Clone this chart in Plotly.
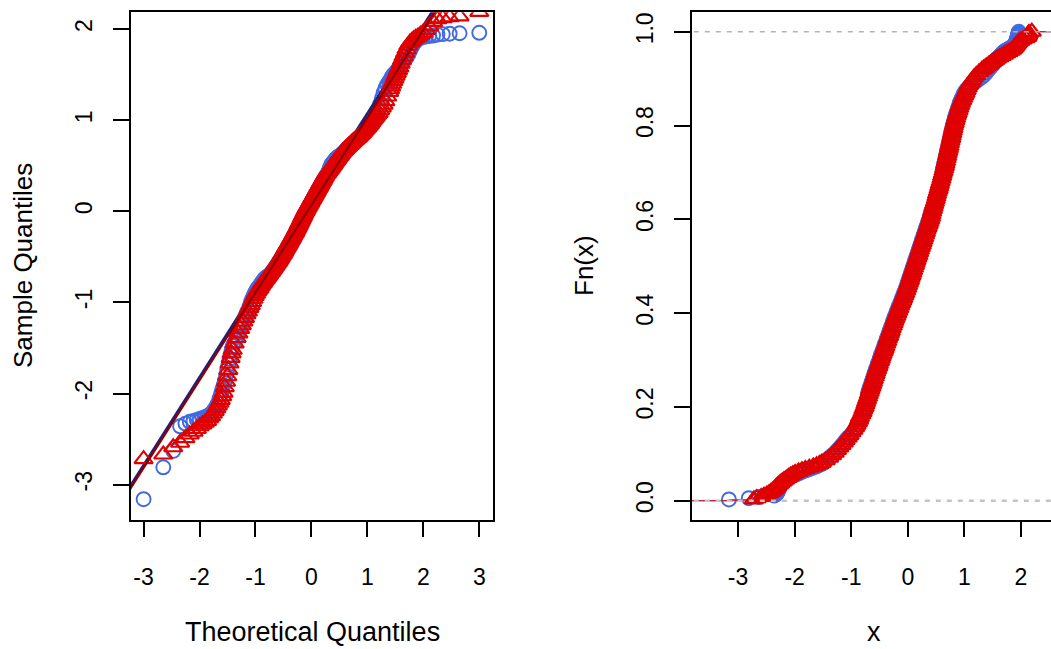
import plotly.graph_objects as go
from statistics import NormalDist

# ---- data ----------------------------------------------------------------
n = 370  # sample size of each series

# order statistics that are drawn (every one in the tails, every second elsewhere)
ranks = (list(range(1, 31)) + list(range(32, 63, 2)) + list(range(64, 305, 2))
         + list(range(306, 341, 2)) + list(range(341, 371)))

# sorted sample values at those ranks
blue_values = [
    # ranks 1-30
    -3.16, -2.81, -2.63, -2.36, -2.33, -2.31, -2.30, -2.29, -2.28, -2.27,
    -2.26, -2.25, -2.24, -2.22, -2.20, -2.17, -2.14, -2.11, -2.06, -2.01,
    -1.96, -1.91, -1.86, -1.80, -1.74, -1.68, -1.62, -1.57, -1.52, -1.48,
    # ranks 32-62
    -1.44, -1.38, -1.33, -1.28, -1.24, -1.20, -1.16, -1.12, -1.09, -1.05,
    -1.00, -0.965, -0.93, -0.90, -0.875, -0.85,
    # ranks 64-304
    -0.835, -0.82, -0.80, -0.78, -0.765, -0.748, -0.735, -0.725, -0.715, -0.71,
    -0.706, -0.692, -0.68, -0.663, -0.65, -0.634, -0.62, -0.603, -0.59, -0.576,
    -0.56, -0.542, -0.53, -0.51, -0.495, -0.482, -0.465, -0.446, -0.43, -0.417,
    -0.40, -0.383, -0.37, -0.35, -0.335, -0.321, -0.305, -0.286, -0.27, -0.257,
    -0.24, -0.22, -0.205, -0.188, -0.17, -0.153, -0.135, -0.116, -0.10, -0.082,
    -0.065, -0.047, -0.03, -0.016, 0.0, 0.017, 0.03, 0.046, 0.06, 0.074,
    0.09, 0.107, 0.12, 0.134, 0.15, 0.166, 0.18, 0.194, 0.21, 0.227,
    0.24, 0.254, 0.27, 0.286, 0.30, 0.313, 0.33, 0.346, 0.36, 0.377,
    0.39, 0.40, 0.415, 0.435, 0.46, 0.48, 0.505, 0.52, 0.53, 0.54,
    0.55, 0.565, 0.575, 0.585, 0.595, 0.60, 0.605, 0.61, 0.615, 0.625,
    0.635, 0.644, 0.655, 0.666, 0.675, 0.684, 0.695, 0.706, 0.715, 0.724,
    0.735, 0.746, 0.755, 0.764, 0.775, 0.786, 0.795, 0.808, 0.82, 0.831,
    0.845,
    # ranks 306-340
    0.86, 0.875, 0.89, 0.905, 0.92, 0.94, 0.96, 0.98, 1.00, 1.03,
    1.07, 1.12, 1.18, 1.24, 1.30, 1.35, 1.39, 1.42,
    # ranks 341-370
    1.44, 1.46, 1.48, 1.50, 1.51, 1.52, 1.54, 1.56, 1.58, 1.61,
    1.63, 1.65, 1.67, 1.69, 1.72, 1.76, 1.80, 1.84, 1.87, 1.89,
    1.905, 1.915, 1.92, 1.925, 1.93, 1.94, 1.945, 1.95, 1.955, 1.96,
]
red_values = [
    # ranks 1-30
    -2.72, -2.67, -2.59, -2.54, -2.49, -2.45, -2.42, -2.39, -2.36, -2.34,
    -2.32, -2.30, -2.27, -2.25, -2.22, -2.19, -2.16, -2.13, -2.10, -2.07,
    -2.03, -1.99, -1.93, -1.87, -1.81, -1.74, -1.67, -1.61, -1.56, -1.52,
    # ranks 32-62
    -1.45, -1.39, -1.34, -1.29, -1.25, -1.21, -1.17, -1.13, -1.10, -1.06,
    -1.03, -0.995, -0.96, -0.93, -0.905, -0.88,
    # ranks 64-304
    -0.86, -0.845, -0.82, -0.80, -0.785, -0.765, -0.75, -0.737, -0.72, -0.703,
    -0.69, -0.672, -0.66, -0.643, -0.63, -0.614, -0.60, -0.583, -0.57, -0.556,
    -0.54, -0.522, -0.51, -0.49, -0.475, -0.462, -0.445, -0.426, -0.41, -0.397,
    -0.38, -0.363, -0.35, -0.33, -0.315, -0.301, -0.285, -0.266, -0.25, -0.237,
    -0.22, -0.2, -0.185, -0.168, -0.15, -0.133, -0.115, -0.096, -0.08, -0.062,
    -0.045, -0.027, -0.01, 0.004, 0.02, 0.037, 0.05, 0.066, 0.08, 0.094,
    0.11, 0.127, 0.14, 0.154, 0.17, 0.186, 0.20, 0.214, 0.23, 0.247,
    0.26, 0.274, 0.29, 0.306, 0.32, 0.333, 0.35, 0.366, 0.38, 0.397,
    0.41, 0.418, 0.43, 0.443, 0.455, 0.466, 0.48, 0.494, 0.505, 0.516,
    0.53, 0.544, 0.555, 0.566, 0.58, 0.594, 0.605, 0.617, 0.63, 0.643,
    0.655, 0.664, 0.675, 0.686, 0.695, 0.704, 0.715, 0.726, 0.735, 0.744,
    0.755, 0.766, 0.775, 0.784, 0.795, 0.806, 0.815, 0.828, 0.84, 0.851,
    0.865,
    # ranks 306-340
    0.88, 0.895, 0.91, 0.925, 0.94, 0.96, 0.98, 1.00, 1.02, 1.04,
    1.06, 1.08, 1.11, 1.14, 1.17, 1.21, 1.26, 1.31,
    # ranks 341-370
    1.34, 1.37, 1.40, 1.43, 1.46, 1.49, 1.52, 1.55, 1.58, 1.62,
    1.66, 1.70, 1.74, 1.78, 1.82, 1.85, 1.87, 1.89, 1.905, 1.92,
    1.94, 1.96, 1.99, 2.03, 2.08, 2.11, 2.12, 2.13, 2.14, 2.19,
]

# reference lines of the normal plot: (intercept, slope)
blue_qqline = (0.11, 0.965)
red_qqline = (0.07, 0.962)

qq_xticks = [-3, -2, -1, 0, 1, 2, 3]
qq_yticks = [-3, -2, -1, 0, 1, 2]
ecdf_xticks = [-3, -2, -1, 0, 1, 2]
ecdf_yticks = [0.0, 0.2, 0.4, 0.6, 0.8, 1.0]

assert len(ranks) == len(blue_values) == len(red_values)

# ---- derived coordinates --------------------------------------------------
nd = NormalDist()
theoretical = [nd.inv_cdf((r - 0.5) / n) for r in ranks]
fn = [r / n for r in ranks]

BLUE = "#4169E1"
RED = "#E00000"
FONT = "Liberation Sans, Arial, Helvetica, sans-serif"

W, H = 1051, 649


def px_x(p):
    return p / W


def px_y(p):
    return 1 - p / H


circle = dict(symbol="circle-open", size=14, color=BLUE, line=dict(width=1.9))
triangle = dict(symbol="triangle-up-open", size=16, color=RED, line=dict(width=2.1))

fig = go.Figure()

# ---- left panel: normal Q-Q plot -----------------------------------------
line_x = [-4.0, 4.0]
fig.add_trace(go.Scatter(x=theoretical, y=blue_values, mode="markers",
                         xaxis="x", yaxis="y", marker=circle))
fig.add_trace(go.Scatter(
    x=line_x, y=[blue_qqline[0] + blue_qqline[1] * v for v in line_x],
    mode="lines", xaxis="x", yaxis="y", line=dict(color="#1E1E80", width=2.6),
))
fig.add_trace(go.Scatter(x=theoretical, y=red_values, mode="markers",
                         xaxis="x", yaxis="y", marker=triangle))
fig.add_trace(go.Scatter(
    x=line_x, y=[red_qqline[0] + red_qqline[1] * v for v in line_x],
    mode="lines", xaxis="x", yaxis="y", line=dict(color="#8B0000", width=2.2),
))

# ---- right panel: empirical CDFs -----------------------------------------
for vals, col, mk in ((blue_values, BLUE, circle), (red_values, RED, triangle)):
    fig.add_trace(go.Scatter(
        x=[-10] + vals + [10], y=[0] + fn + [1], mode="lines",
        line=dict(color=col, width=1, shape="hv"), xaxis="x2", yaxis="y2",
    ))
    fig.add_trace(go.Scatter(x=vals, y=fn, mode="markers",
                             xaxis="x2", yaxis="y2", marker=mk))

for level, width, colr in ((0, 2.5, "#C4C4C4"), (1, 1.5, "#B3B3B3")):
    fig.add_trace(go.Scatter(
        x=[-10, 10], y=[level, level], mode="lines", xaxis="x2", yaxis="y2",
        line=dict(color=colr, width=width, dash="5px,6px"),
    ))

# ---- axes -----------------------------------------------------------------
ydom = [px_y(519.5), px_y(12.3)]
axis_common = dict(
    showgrid=False, zeroline=False, showline=True, linecolor="black", linewidth=1.6,
    ticks="outside", ticklen=16, tickwidth=1.5, tickcolor="black",
    tickfont=dict(family=FONT, size=23, color="black"),
)

fig.update_layout(
    width=W, height=H, margin=dict(l=0, r=0, t=0, b=0),
    paper_bgcolor="white", plot_bgcolor="white", showlegend=False,
    xaxis=dict(domain=[px_x(130.7), px_x(493)], range=[-3.23, 3.245], mirror=True,
               tickvals=qq_xticks, ticktext=[str(v) for v in qq_xticks],
               ticklabelstandoff=20, anchor="y", **axis_common),
    yaxis=dict(domain=ydom, range=[-3.383, 2.185], mirror=True,
               tickvals=qq_yticks, ticktext=[str(v) for v in qq_yticks],
               tickangle=-90, ticklabelstandoff=12, anchor="x", **axis_common),
    xaxis2=dict(domain=[px_x(691.7), 1.0], range=[-3.818, 2.53], mirror=True,
                tickvals=ecdf_xticks, ticktext=[str(v) for v in ecdf_xticks],
                ticklabelstandoff=20, anchor="y2", **axis_common),
    yaxis2=dict(domain=ydom, range=[-0.040, 1.0415], mirror=False,
                tickvals=ecdf_yticks, ticktext=[f"{v:.1f}" for v in ecdf_yticks],
                tickangle=-90, ticklabelstandoff=12, anchor="x2", **axis_common),
)

# axis titles
for text, x in (("Theoretical Quantiles", 312), ("x", 874)):
    fig.add_annotation(text=text, x=px_x(x), y=0, xref="paper", yref="paper",
                       xanchor="center", yanchor="bottom", showarrow=False,
                       font=dict(family=FONT, size=27, color="black"))
for text, x in (("Sample Quantiles", 23), ("Fn(x)", 584)):
    fig.add_annotation(text=text, x=px_x(x), y=px_y(266), xref="paper", yref="paper",
                       xanchor="center", yanchor="middle", showarrow=False,
                       textangle=-90, font=dict(family=FONT, size=26, color="black"))

fig.write_html("out.html")
